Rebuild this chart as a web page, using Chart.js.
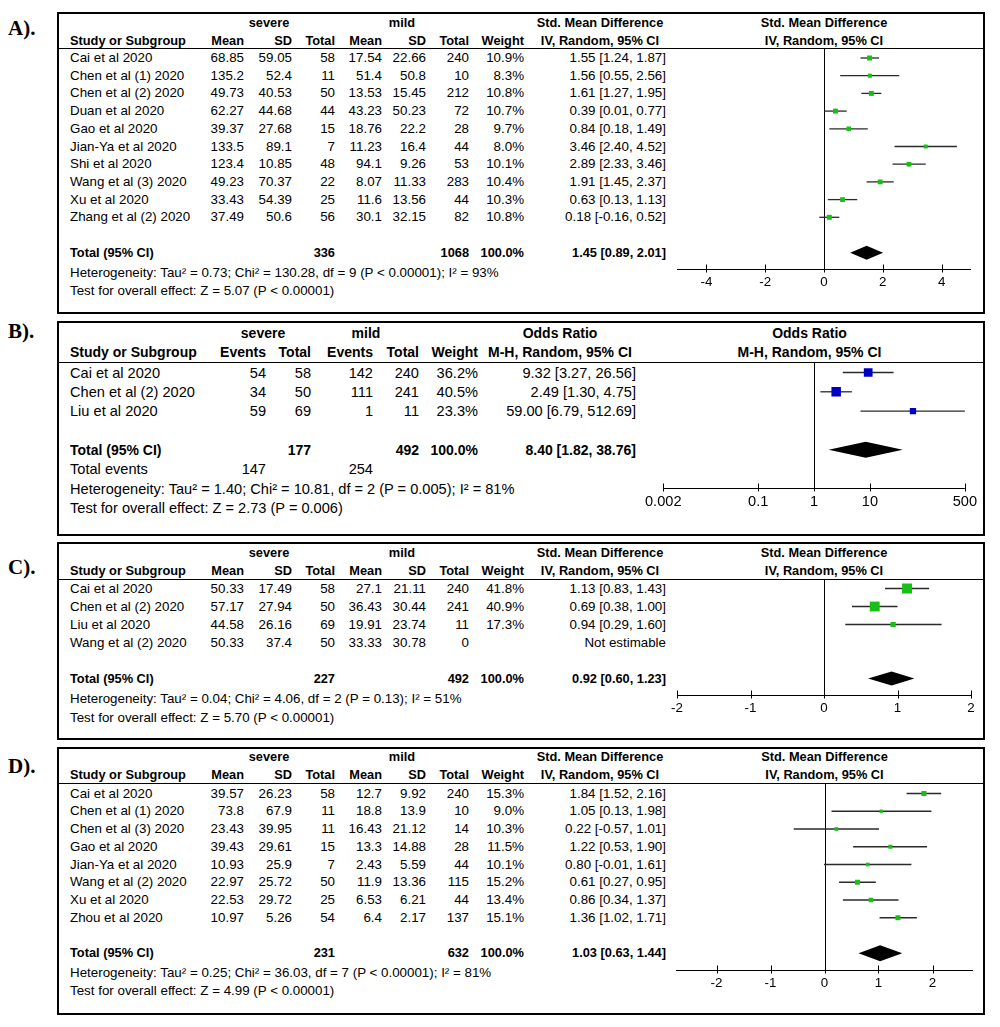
<!DOCTYPE html>
<html><head><meta charset="utf-8">
<script src="https://cdn.jsdelivr.net/npm/chart.js@4.4.1/dist/chart.umd.min.js"></script>
<style>
html,body{margin:0;padding:0;background:#fff;}
#root{position:relative;width:1000px;height:1027px;overflow:hidden;font-family:"Liberation Sans",Arial,sans-serif;color:#000;}
.t{position:absolute;white-space:nowrap;line-height:1;}
.box{position:absolute;border:2px solid #000;box-sizing:border-box;}
.hl{position:absolute;height:1px;background:#000;}
.lab{position:absolute;font-family:"Liberation Serif","Times New Roman",serif;font-weight:bold;font-size:21px;line-height:1;transform:translateY(-50%);}
canvas{position:absolute;}
</style></head><body><div id="root"></div>
<script>
// ---------- Panel A: Std. Mean Difference ----------
const studiesA = ["Cai et al 2020","Chen et al (1) 2020","Chen et al (2) 2020","Duan et al 2020","Gao et al 2020","Jian-Ya et al 2020","Shi et al 2020","Wang et al (3) 2020","Xu et al 2020","Zhang et al (2) 2020"];
const sevMeanA = [68.85,135.2,49.73,62.27,39.37,133.5,123.4,49.23,33.43,37.49];
const sevSdA = [59.05,52.4,40.53,44.68,27.68,89.1,10.85,70.37,54.39,50.6];
const sevTotalA = [58,11,50,44,15,7,48,22,25,56];
const mildMeanA = [17.54,51.4,13.53,43.23,18.76,11.23,94.1,8.07,11.6,30.1];
const mildSdA = [22.66,50.8,15.45,50.23,22.2,16.4,9.26,11.33,13.56,32.15];
const mildTotalA = [240,10,212,72,28,44,53,283,44,82];
const weightA = [10.9,8.3,10.8,10.7,9.7,8.0,10.1,10.4,10.3,10.8];
const estA = [1.55,1.56,1.61,0.39,0.84,3.46,2.89,1.91,0.63,0.18];
const lowA = [1.24,0.55,1.27,0.01,0.18,2.40,2.33,1.45,0.13,-0.16];
const highA = [1.87,2.56,1.95,0.77,1.49,4.52,3.46,2.37,1.13,0.52];
const totalsA = [336,1068];
const pooledA = [1.45,0.89,2.01];
const hetA = "Heterogeneity: Tau² = 0.73; Chi² = 130.28, df = 9 (P < 0.00001); I² = 93%";
const testA = "Test for overall effect: Z = 5.07 (P < 0.00001)";
const ticksA = [-4,-2,0,2,4];
const rangeA = [-5,5];

// ---------- Panel B: Odds Ratio ----------
const studiesB = ["Cai et al 2020","Chen et al (2) 2020","Liu et al 2020"];
const sevEventsB = [54,34,59];
const sevTotalB = [58,50,69];
const mildEventsB = [142,111,1];
const mildTotalB = [240,241,11];
const weightB = [36.2,40.5,23.3];
const estB = [9.32,2.49,59.00];
const lowB = [3.27,1.30,6.79];
const highB = [26.56,4.75,512.69];
const totalsB = [177,492];
const totalEventsB = [147,254];
const pooledB = [8.40,1.82,38.76];
const hetB = "Heterogeneity: Tau² = 1.40; Chi² = 10.81, df = 2 (P = 0.005); I² = 81%";
const testB = "Test for overall effect: Z = 2.73 (P = 0.006)";
const ticksB = [0.002,0.1,1,10,500];
const rangeB = [0.002,500];

// ---------- Panel C: Std. Mean Difference ----------
const studiesC = ["Cai et al 2020","Chen et al (2) 2020","Liu et al 2020","Wang et al (2) 2020"];
const sevMeanC = [50.33,57.17,44.58,50.33];
const sevSdC = [17.49,27.94,26.16,37.4];
const sevTotalC = [58,50,69,50];
const mildMeanC = [27.1,36.43,19.91,33.33];
const mildSdC = [21.11,30.44,23.74,30.78];
const mildTotalC = [240,241,11,0];
const weightC = [41.8,40.9,17.3,null];
const estC = [1.13,0.69,0.94,null];
const lowC = [0.83,0.38,0.29,null];
const highC = [1.43,1.00,1.60,null];
const totalsC = [227,492];
const pooledC = [0.92,0.60,1.23];
const hetC = "Heterogeneity: Tau² = 0.04; Chi² = 4.06, df = 2 (P = 0.13); I² = 51%";
const testC = "Test for overall effect: Z = 5.70 (P < 0.00001)";
const ticksC = [-2,-1,0,1,2];
const rangeC = [-2,2];

// ---------- Panel D: Std. Mean Difference ----------
const studiesD = ["Cai et al 2020","Chen et al (1) 2020","Chen et al (3) 2020","Gao et al 2020","Jian-Ya et al 2020","Wang et al (2) 2020","Xu et al 2020","Zhou et al 2020"];
const sevMeanD = [39.57,73.8,23.43,39.43,10.93,22.97,22.53,10.97];
const sevSdD = [26.23,67.9,39.95,29.61,25.9,25.72,29.72,5.26];
const sevTotalD = [58,11,11,15,7,50,25,54];
const mildMeanD = [12.7,18.8,16.43,13.3,2.43,11.9,6.53,6.4];
const mildSdD = [9.92,13.9,21.12,14.88,5.59,13.36,6.21,2.17];
const mildTotalD = [240,10,14,28,44,115,44,137];
const weightD = [15.3,9.0,10.3,11.5,10.1,15.2,13.4,15.1];
const estD = [1.84,1.05,0.22,1.22,0.80,0.61,0.86,1.36];
const lowD = [1.52,0.13,-0.57,0.53,-0.01,0.27,0.34,1.02];
const highD = [2.16,1.98,1.01,1.90,1.61,0.95,1.37,1.71];
const totalsD = [231,632];
const pooledD = [1.03,0.63,1.44];
const hetD = "Heterogeneity: Tau² = 0.25; Chi² = 36.03, df = 7 (P < 0.00001); I² = 81%";
const testD = "Test for overall effect: Z = 4.99 (P < 0.00001)";
const ticksD = [-2,-1,0,1,2];
const rangeD = [-2.75,2.75];

// ---------- layout ----------
const root = document.getElementById('root');
Chart.defaults.font.family = '"Liberation Sans", Arial, sans-serif';
const BOX_L = 57, BOX_R = 985, CANVAS_L = 640, CANVAS_R = 982;
const GREEN = '#17c017', BLUE = '#0000c4';

function txt(x, y, s, size, align, bold) {
  const d = document.createElement('div');
  d.className = 't'; d.textContent = s;
  d.style.left = x + 'px'; d.style.top = y + 'px'; d.style.fontSize = size + 'px';
  if (bold) d.style.fontWeight = 'bold';
  const tx = align === 'right' ? '-100%' : (align === 'center' ? '-50%' : '0');
  d.style.transform = 'translate(' + tx + ',-50%)';
  root.appendChild(d);
}
const fmtCI = (e, l, h) => e.toFixed(2) + ' [' + l.toFixed(2) + ', ' + h.toFixed(2) + ']';

const colSMD = {study:70, m1:244, s1:292, t1:335, m2:382, s2:426, t2:469, w:524, ci:666, sev:269, mild:402, hdr:600};
const colOR = {study:70, e1:266, t1:311, e2:373, t2:419, w:478, ci:636, sev:263, mild:366, hdr:560};

const panels = [
  {label:'A).', labelY:28, top:12, bottom:314, font:13.35, bfont:12.8, hdr1:23, hdr2:41, lineY:48, row0:58, rowH:17.7, extraY:null, hetY:273, testY:291, axisY:269,
   kind:'smd', title:'Std. Mean Difference', sub:'IV, Random, 95% CI',
   studies:studiesA, c1:sevMeanA, c2:sevSdA, c3:sevTotalA, c4:mildMeanA, c5:mildSdA, c6:mildTotalA, w:weightA,
   est:estA, lo:lowA, hi:highA, totals:totalsA, pooled:pooledA, het:hetA, test:testA,
   ticks:ticksA, range:rangeA, scale:'linear', ref:0, pxMin:677, pxMax:971, color:GREEN, maxSide:5, dh:7},
  {label:'B).', labelY:331, top:321, bottom:536, font:14.6, bfont:14, hdr1:333, hdr2:352, lineY:362, row0:372.5, rowH:19.3, extraY:469, hetY:489, testY:508, axisY:488,
   kind:'or', title:'Odds Ratio', sub:'M-H, Random, 95% CI',
   studies:studiesB, c1:sevEventsB, c3:sevTotalB, c4:mildEventsB, c6:mildTotalB, w:weightB,
   est:estB, lo:lowB, hi:highB, totals:totalsB, pooled:pooledB, het:hetB, test:testB,
   ticks:ticksB, range:rangeB, scale:'logarithmic', ref:1, pxMin:652, pxMax:967, color:BLUE, maxSide:9.5, dh:8},
  {label:'C).', labelY:567, top:542, bottom:740, font:13.35, bfont:12.8, hdr1:553, hdr2:571, lineY:579, row0:588.5, rowH:18, extraY:null, hetY:699, testY:718, axisY:695,
   kind:'smd', title:'Std. Mean Difference', sub:'IV, Random, 95% CI',
   studies:studiesC, c1:sevMeanC, c2:sevSdC, c3:sevTotalC, c4:mildMeanC, c5:mildSdC, c6:mildTotalC, w:weightC,
   est:estC, lo:lowC, hi:highC, totals:totalsC, pooled:pooledC, het:hetC, test:testC,
   ticks:ticksC, range:rangeC, scale:'linear', ref:0, pxMin:677, pxMax:971, color:GREEN, maxSide:10, dh:7},
  {label:'D).', labelY:766, top:747, bottom:1015, font:13.35, bfont:12.8, hdr1:757, hdr2:775, lineY:783, row0:793.5, rowH:17.75, extraY:null, hetY:973, testY:991, axisY:970,
   kind:'smd', title:'Std. Mean Difference', sub:'IV, Random, 95% CI',
   studies:studiesD, c1:sevMeanD, c2:sevSdD, c3:sevTotalD, c4:mildMeanD, c5:mildSdD, c6:mildTotalD, w:weightD,
   est:estD, lo:lowD, hi:highD, totals:totalsD, pooled:pooledD, het:hetD, test:testD,
   ticks:ticksD, range:rangeD, scale:'linear', ref:0, pxMin:676, pxMax:973, color:GREEN, maxSide:5, dh:8}
];

panels.forEach(p => {
  const box = document.createElement('div');
  box.className = 'box';
  box.style.left = BOX_L + 'px'; box.style.top = p.top + 'px';
  box.style.width = (BOX_R - BOX_L) + 'px'; box.style.height = (p.bottom - p.top) + 'px';
  root.appendChild(box);
  const hl = document.createElement('div');
  hl.className = 'hl';
  hl.style.left = BOX_L + 'px'; hl.style.top = p.lineY + 'px'; hl.style.width = (BOX_R - BOX_L) + 'px';
  root.appendChild(hl);
  const lab = document.createElement('div');
  lab.className = 'lab'; lab.textContent = p.label;
  lab.style.left = '8px'; lab.style.top = p.labelY + 'px';
  root.appendChild(lab);

  const f = p.font, bf = p.bfont, n = p.studies.length;
  const rowY = i => p.row0 + i * p.rowH;
  const totalRow = n + 1;

  if (p.kind === 'smd') {
    const c = colSMD;
    txt(c.sev, p.hdr1, 'severe', bf, 'center', true);
    txt(c.mild, p.hdr1, 'mild', bf, 'center', true);
    txt(c.hdr, p.hdr1, p.title, bf, 'center', true);
    txt(c.study, p.hdr2, 'Study or Subgroup', bf, 'left', true);
    [['Mean',c.m1],['SD',c.s1],['Total',c.t1],['Mean',c.m2],['SD',c.s2],['Total',c.t2],['Weight',c.w]].forEach(h => txt(h[1], p.hdr2, h[0], bf, 'right', true));
    txt(c.hdr, p.hdr2, p.sub, bf, 'center', true);
    p.studies.forEach((s, i) => {
      const y = rowY(i);
      txt(c.study, y, s, f, 'left');
      txt(c.m1, y, String(p.c1[i]), f, 'right');
      txt(c.s1, y, String(p.c2[i]), f, 'right');
      txt(c.t1, y, String(p.c3[i]), f, 'right');
      txt(c.m2, y, String(p.c4[i]), f, 'right');
      txt(c.s2, y, String(p.c5[i]), f, 'right');
      txt(c.t2, y, String(p.c6[i]), f, 'right');
      if (p.w[i] != null) txt(c.w, y, p.w[i].toFixed(1) + '%', f, 'right');
      txt(c.ci, y, p.est[i] != null ? fmtCI(p.est[i], p.lo[i], p.hi[i]) : 'Not estimable', f, 'right');
    });
    const ty = rowY(totalRow);
    txt(c.study, ty, 'Total (95% CI)', bf, 'left', true);
    txt(c.t1, ty, String(p.totals[0]), bf, 'right', true);
    txt(c.t2, ty, String(p.totals[1]), bf, 'right', true);
    txt(c.w, ty, '100.0%', bf, 'right', true);
    txt(c.ci, ty, fmtCI(p.pooled[0], p.pooled[1], p.pooled[2]), bf, 'right', true);
    txt(c.study, p.hetY, p.het, f, 'left');
    txt(c.study, p.testY, p.test, f, 'left');
  } else {
    const c = colOR;
    txt(c.sev, p.hdr1, 'severe', bf, 'center', true);
    txt(c.mild, p.hdr1, 'mild', bf, 'center', true);
    txt(c.hdr, p.hdr1, p.title, bf, 'center', true);
    txt(c.study, p.hdr2, 'Study or Subgroup', bf, 'left', true);
    [['Events',c.e1],['Total',c.t1],['Events',c.e2],['Total',c.t2],['Weight',c.w]].forEach(h => txt(h[1], p.hdr2, h[0], bf, 'right', true));
    txt(c.hdr, p.hdr2, p.sub, bf, 'center', true);
    p.studies.forEach((s, i) => {
      const y = rowY(i);
      txt(c.study, y, s, f, 'left');
      txt(c.e1, y, String(p.c1[i]), f, 'right');
      txt(c.t1, y, String(p.c3[i]), f, 'right');
      txt(c.e2, y, String(p.c4[i]), f, 'right');
      txt(c.t2, y, String(p.c6[i]), f, 'right');
      txt(c.w, y, p.w[i].toFixed(1) + '%', f, 'right');
      txt(c.ci, y, fmtCI(p.est[i], p.lo[i], p.hi[i]), f, 'right');
    });
    const ty = rowY(totalRow);
    txt(c.study, ty, 'Total (95% CI)', bf, 'left', true);
    txt(c.t1, ty, String(p.totals[0]), bf, 'right', true);
    txt(c.t2, ty, String(p.totals[1]), bf, 'right', true);
    txt(c.w, ty, '100.0%', bf, 'right', true);
    txt(c.ci, ty, fmtCI(p.pooled[0], p.pooled[1], p.pooled[2]), bf, 'right', true);
    txt(c.study, p.extraY, 'Total events', f, 'left');
    txt(c.e1, p.extraY, String(totalEventsB[0]), f, 'right');
    txt(c.e2, p.extraY, String(totalEventsB[1]), f, 'right');
    txt(c.study, p.hetY, p.het, f, 'left');
    txt(c.study, p.testY, p.test, f, 'left');
  }

  const midX = (p.pxMin + p.pxMax) / 2;
  txt(midX, p.hdr1, p.title, bf, 'center', true);
  txt(midX, p.hdr2, p.sub, bf, 'center', true);

  const cv = document.createElement('canvas');
  const cw = CANVAS_R - CANVAS_L, ch = p.bottom - 2 - p.lineY;
  cv.width = cw; cv.height = ch;
  cv.style.left = CANVAS_L + 'px'; cv.style.top = p.lineY + 'px';
  cv.style.width = cw + 'px'; cv.style.height = ch + 'px';
  root.appendChild(cv);
  const axisH = ch - (p.axisY - p.lineY);
  const wmax = Math.max(...p.w.filter(v => v != null));
  const pts = [], radii = [];
  p.est.forEach((e, i) => {
    if (e == null) return;
    pts.push({x: e, y: i});
    const side = p.maxSide * Math.pow(p.w[i] / wmax, 0.75);
    radii.push(side / Math.SQRT2);
  });

  const forestPlugin = {
    id: 'forest' + p.label,
    beforeDatasetsDraw(chart) {
      const ctx = chart.ctx, xs = chart.scales.x, ys = chart.scales.y, a = chart.chartArea;
      ctx.save();
      ctx.strokeStyle = '#000'; ctx.lineWidth = 1;
      const x0 = Math.round(xs.getPixelForValue(p.ref)) + 0.5;
      ctx.beginPath(); ctx.moveTo(x0, a.top); ctx.lineTo(x0, a.bottom); ctx.stroke();
      const yAx = Math.round(a.bottom) + 0.5;
      ctx.beginPath(); ctx.moveTo(a.left, yAx); ctx.lineTo(a.right, yAx); ctx.stroke();
      p.ticks.forEach(v => {
        const x = Math.round(xs.getPixelForValue(v)) + 0.5;
        ctx.beginPath(); ctx.moveTo(x, yAx - 5); ctx.lineTo(x, yAx + 3); ctx.stroke();
      });
      ctx.strokeStyle = '#2a2a2a'; ctx.lineWidth = 1.3;
      p.est.forEach((e, i) => {
        if (e == null) return;
        const y = ys.getPixelForValue(i);
        const x1 = xs.getPixelForValue(Math.max(p.lo[i], p.range[0]));
        const x2 = xs.getPixelForValue(Math.min(p.hi[i], p.range[1]));
        ctx.beginPath(); ctx.moveTo(x1, y); ctx.lineTo(x2, y); ctx.stroke();
      });
      const ty = ys.getPixelForValue(totalRow);
      const xe = xs.getPixelForValue(p.pooled[0]), xl = xs.getPixelForValue(p.pooled[1]), xh = xs.getPixelForValue(p.pooled[2]);
      ctx.fillStyle = '#000';
      ctx.beginPath(); ctx.moveTo(xl, ty); ctx.lineTo(xe, ty - p.dh); ctx.lineTo(xh, ty); ctx.lineTo(xe, ty + p.dh); ctx.closePath(); ctx.fill();
      ctx.restore();
    }
  };

  new Chart(cv, {
    type: 'scatter',
    data: { datasets: [{ data: pts, pointStyle: 'rect', pointRadius: radii, pointHoverRadius: radii,
      backgroundColor: p.color, borderWidth: 0 }] },
    options: {
      responsive: false, animation: false, devicePixelRatio: 1, events: [],
      layout: { autoPadding: false, padding: { left: p.pxMin - CANVAS_L, right: CANVAS_R - p.pxMax, top: 0, bottom: 0 } },
      plugins: { legend: { display: false }, tooltip: { enabled: false } },
      scales: {
        x: { type: p.scale, position: 'bottom', min: p.range[0], max: p.range[1], bounds: 'data',
          afterFit: s => { s.height = axisH; },
          afterBuildTicks: s => { s.ticks = p.ticks.map(v => ({ value: v })); },
          grid: { display: false, drawTicks: false }, border: { display: false },
          ticks: { autoSkip: false, maxRotation: 0, padding: 5, color: '#000', font: { size: f },
            callback: v => String(v) } },
        y: { type: 'linear', display: false, reverse: true,
          min: (p.lineY - p.row0) / p.rowH, max: (p.axisY - p.row0) / p.rowH }
      }
    },
    plugins: [forestPlugin]
  });
});
</script>
</body></html>
